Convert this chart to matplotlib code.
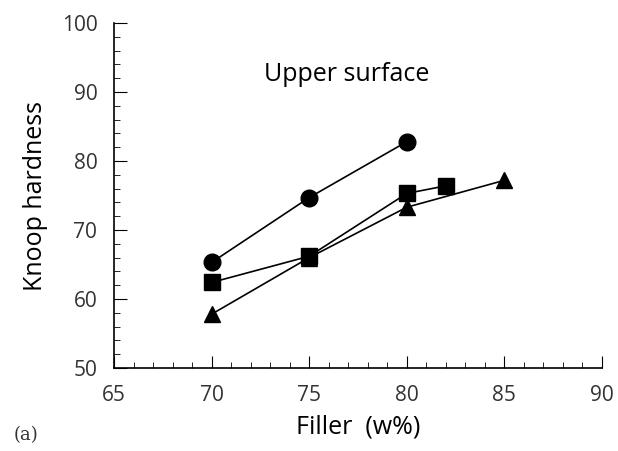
import matplotlib
matplotlib.use('Agg')
import matplotlib.pyplot as plt
from matplotlib.ticker import MultipleLocator

# filler content (w%) and Knoop hardness for the three series
x_circle = [70, 75, 80]
y_circle = [65.3, 74.7, 82.8]
x_square = [70, 75, 80, 82]
y_square = [62.4, 66.2, 75.3, 76.4]
x_triangle = [70, 75, 80, 85]
y_triangle = [57.8, 66.0, 73.3, 77.2]

plt.rcParams['font.family'] = ['Open Sans', 'DejaVu Sans']

fig = plt.figure(figsize=(6.18, 4.51), dpi=100)
ax = fig.add_axes([0.1845, 0.184, 0.7895, 0.765])

ax.plot(x_circle, y_circle, '-o', color='black', lw=1.2, ms=12)
ax.plot(x_square, y_square, '-s', color='black', lw=1.2, ms=11)
ax.plot(x_triangle, y_triangle, '-^', color='black', lw=1.2, ms=11)

ax.set_xlim(65, 90)
ax.set_ylim(50, 100)
ax.xaxis.set_major_locator(MultipleLocator(5))
ax.xaxis.set_minor_locator(MultipleLocator(1))
ax.yaxis.set_major_locator(MultipleLocator(10))
ax.yaxis.set_minor_locator(MultipleLocator(2))
ax.tick_params(which='major', direction='in', length=9, width=0.8, labelsize=15,
               labelcolor='#333333', pad=12)
ax.tick_params(which='minor', direction='in', length=4, width=0.6)
for s in ['left', 'bottom']:
    ax.spines[s].set_linewidth(1.2)
ax.spines['top'].set_visible(False)
ax.spines['right'].set_visible(False)

ax.set_xlabel('Filler  (w%)', fontsize=18, labelpad=6)
ax.set_ylabel('Knoop hardness', fontsize=18, labelpad=10)
ax.text(76.9, 92.5, 'Upper surface', fontsize=18, ha='center', va='center')
fig.text(0.022, 0.025, '(a)', fontsize=13, family='DejaVu Serif', color='#333333')

plt.savefig('out.png', dpi=100)
